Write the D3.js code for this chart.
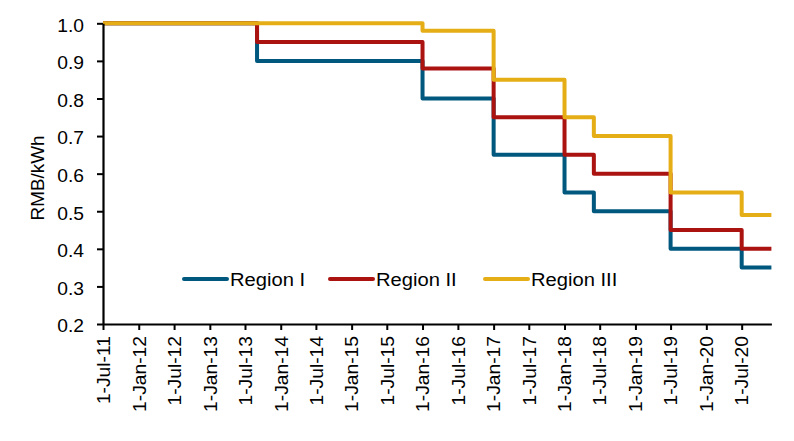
<!DOCTYPE html>
<html>
<head>
<meta charset="utf-8">
<script src="https://cdn.jsdelivr.net/npm/d3@7"></script>
<style>
  html, body { margin: 0; padding: 0; background: #fff; }
  svg { display: block; }
  text { font-family: "Liberation Sans", Arial, sans-serif; fill: #000; }
</style>
</head>
<body>
<svg id="chart" width="794" height="441"></svg>
<script>
// ---- data ----
const changeDates = ["2011-07-01", "2013-09-01", "2016-01-01", "2017-01-01", "2018-01-01", "2018-06-01", "2019-07-01", "2020-07-01"];
const endDate = "2020-12-01";
const regionI   = [1.00, 0.90, 0.80, 0.65, 0.55, 0.50, 0.40, 0.35];
const regionII  = [1.00, 0.95, 0.88, 0.75, 0.65, 0.60, 0.45, 0.40];
const regionIII = [1.00, 1.00, 0.98, 0.85, 0.75, 0.70, 0.55, 0.49];
const seriesNames = ["Region I", "Region II", "Region III"];
const seriesColors = ["#00587f", "#ab1311", "#e5ae17"];
const xTickDates = ["2011-07-01","2012-01-01","2012-07-01","2013-01-01","2013-07-01","2014-01-01","2014-07-01",
  "2015-01-01","2015-07-01","2016-01-01","2016-07-01","2017-01-01","2017-07-01","2018-01-01","2018-07-01",
  "2019-01-01","2019-07-01","2020-01-01","2020-07-01"];
const yTicks = [0.2, 0.3, 0.4, 0.5, 0.6, 0.7, 0.8, 0.9, 1.0];
const yLabel = "RMB/kWh";

// ---- setup ----
const parse = d3.timeParse("%Y-%m-%d");
const svg = d3.select("#chart");

function stretch(sel, k) {
  sel.each(function () {
    const l = this.getComputedTextLength();
    this.setAttribute("textLength", l * k);
    this.setAttribute("lengthAdjust", "spacingAndGlyphs");
  });
}

const x = d3.scaleTime()
  .domain([parse(changeDates[0]), parse(endDate)])
  .range([103, 771.4]);
const y = d3.scaleLinear().domain([0.2, 1.0]).range([324, 23.3]);

// ---- series (step lines) ----
const allSeries = [regionI, regionII, regionIII];
const line = d3.line()
  .x(d => x(d.date))
  .y(d => y(d.value))
  .curve(d3.curveStepAfter);

allSeries.forEach((vals, i) => {
  const pts = changeDates.map((d, j) => ({ date: parse(d), value: vals[j] }));
  pts.push({ date: parse(endDate), value: vals[vals.length - 1] });
  svg.append("path")
    .datum(pts)
    .attr("fill", "none")
    .attr("stroke", seriesColors[i])
    .attr("stroke-width", 4)
    .attr("stroke-linejoin", "round")
    .attr("d", line);
});

// ---- axes ----
const fmt = d3.timeFormat("%-d-%b-%y");
const xAxis = d3.axisBottom(x)
  .tickValues(xTickDates.map(parse))
  .tickFormat(fmt)
  .tickSize(6)
  .tickSizeOuter(0);
const gx = svg.append("g").attr("transform", "translate(0,324)").call(xAxis);
gx.select(".domain").attr("stroke", "#000").attr("stroke-width", 2.2);
gx.selectAll(".tick line").attr("stroke", "#000").attr("stroke-width", 2);
gx.selectAll(".tick text")
  .attr("font-size", 17.5)
  .attr("text-anchor", "end")
  .attr("transform", "rotate(-90)")
  .attr("x", -12)
  .attr("y", 0)
  .attr("dy", "0.36em")
  .call(stretch, 1.1);

const yAxis = d3.axisLeft(y)
  .tickValues(yTicks)
  .tickFormat(d3.format(".1f"))
  .tickSize(6)
  .tickPadding(13)
  .tickSizeOuter(0);
const gy = svg.append("g").attr("transform", "translate(103,0)").call(yAxis);
gy.select(".domain").attr("stroke", "#000").attr("stroke-width", 2.2);
gy.selectAll(".tick line").attr("stroke", "#000").attr("stroke-width", 2);
gy.selectAll(".tick text")
  .attr("font-size", 17.5)
  .attr("dy", "0.45em")
  .call(stretch, 1.1);

svg.append("text")
  .attr("transform", "translate(44,178) rotate(-90)")
  .attr("text-anchor", "middle")
  .attr("font-size", 17.5)
  .text(yLabel)
  .call(stretch, 1.08);

// ---- legend ----
const legendX = [184, 330, 485];
const legendY = 279;
seriesNames.forEach((name, i) => {
  svg.append("line")
    .attr("x1", legendX[i]).attr("x2", legendX[i] + 43)
    .attr("y1", legendY).attr("y2", legendY)
    .attr("stroke", seriesColors[i])
    .attr("stroke-width", 4)
    .attr("stroke-linecap", "round");
  svg.append("text")
    .attr("x", legendX[i] + 46)
    .attr("y", legendY + 6.5)
    .attr("font-size", 18)
    .text(name)
    .call(stretch, 1.12);
});
</script>
</body>
</html>
